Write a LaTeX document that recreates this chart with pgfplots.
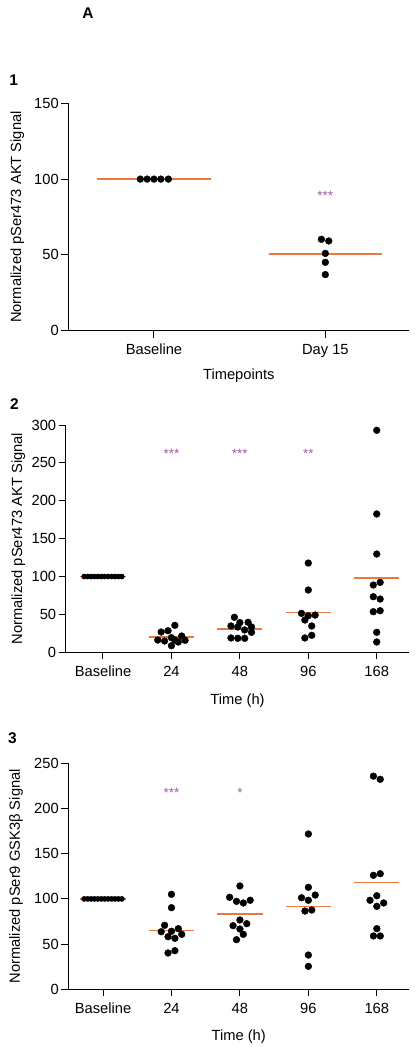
\documentclass[border=0pt]{standalone}
\usepackage{pgfplots}
\pgfplotsset{compat=1.18}
\usepackage{fontspec}
\setmainfont{Liberation Sans}
\definecolor{medorange}{RGB}{232,121,65}
\definecolor{starpurple}{RGB}{165,90,170}
\tikzset{stars/.style={font=\fontsize{13.5}{14}\selectfont, text=starpurple}}
\newcommand{\lblfont}{\fontsize{14.7}{16}\selectfont}
\pgfplotsset{
  panel/.style={
    scale only axis, anchor=south west,
    axis x line*=bottom, axis y line*=left,
    axis line style={-, line width=1pt, black},
    tick align=outside, major tick length=7pt,
    tick style={black, line width=1pt},
    ymin=0, clip=false,
    /pgf/number format/assume math mode=true,
    tick label style={font=\lblfont, text=black},
    xticklabel style={yshift=-3pt},
    yticklabel style={xshift=1pt},
  },
  dots/.style={only marks, mark=*, mark size=3.4pt, black, mark options={fill=black, draw=black}},
  bdots/.style={only marks, mark=*, mark size=2.6pt, black, mark options={fill=black, draw=black}},
  med/.style={no marks, medorange, line width=1.6pt},
}
\begin{document}
\begin{tikzpicture}
\useasboundingbox (0,0) rectangle (420pt,-1047pt);
\node[font=\fontsize{15.5}{16}\selectfont\bfseries] at (88pt,-13pt) {A};
\node[font=\fontsize{15.5}{16}\selectfont\bfseries] at (13.7pt,-80pt) {1};
\node[font=\fontsize{15.5}{16}\selectfont\bfseries] at (14.5pt,-404pt) {2};
\node[font=\fontsize{15.5}{16}\selectfont\bfseries] at (12.5pt,-738pt) {3};

% Panel 1
\begin{axis}[panel, at={(68.3pt,-330.7pt)}, width=341pt, height=227.4pt,
  xmin=-0.5, xmax=1.49, ymax=150, ytick={0,50,100,150},
  xtick={0,1}, xticklabels={Baseline, Day 15},
  xlabel={Timepoints}, ylabel={Normalized pSer473 AKT Signal},
  every axis x label/.style={at={(axis description cs:0.5,-0.196)}, anchor=center, font=\lblfont},
  every axis y label/.style={at={(axis description cs:-0.1496,0.5)}, rotate=90, anchor=center, font=\lblfont}]
\addplot[med] coordinates {(-0.33,100) (0.33,100)};
\addplot[med] coordinates {(0.67,50.6) (1.33,50.6)};
\addplot[dots] coordinates {(-0.08,100) (-0.04,100) (0,100) (0.04,100) (0.084,100)};
\addplot[dots] coordinates {(0.977,60.3) (1.02,59.2) (1,51) (1,45.1) (1,37)};
\node[stars] at (axis cs:1,89) {***};
\end{axis}

% Panel 2
\begin{axis}[panel, at={(65.7pt,-652.3pt)}, width=343.6pt, height=227.3pt,
  xmin=-0.545, xmax=4.476, ymax=300, ytick={0,50,...,300},
  xtick={0,1,2,3,4}, xticklabels={Baseline,24,48,96,168},
  xlabel={Time (h)}, ylabel={Normalized pSer473 AKT Signal},
  every axis x label/.style={at={(axis description cs:0.5,-0.212)}, anchor=center, font=\lblfont},
  every axis y label/.style={at={(axis description cs:-0.138,0.5)}, rotate=90, anchor=center, font=\lblfont}]
\addplot[bdots] coordinates {(-0.275,100) (-0.225,100) (-0.175,100) (-0.125,100) (-0.075,100) (-0.025,100) (0.025,100) (0.075,100) (0.125,100) (0.175,100) (0.225,100) (0.275,100)};
\addplot[med] coordinates {(-0.33,100) (0.33,100)};
\addplot[med] coordinates {(0.67,20.6) (1.33,20.6)};
\addplot[med] coordinates {(1.67,30.8) (2.33,30.8)};
\addplot[med] coordinates {(2.67,52.3) (3.33,52.3)};
\addplot[med] coordinates {(3.67,98) (4.33,98)};
\addplot[dots] coordinates {(1.05,35.6) (0.85,26.8) (0.95,28.5) (0.8,16.2) (0.9,14.9) (1,19.3) (1.15,21.5) (1.05,16.2) (1.1,13.6) (1.2,15.8) (1,8.7)};
\addplot[dots] coordinates {(1.92,46.2) (1.87,34.8) (2,39.2) (2.12,39.6) (1.97,33.4) (2.17,33.4) (2.07,29.5) (2.17,26.4) (1.87,18.9) (1.97,18.5) (2.07,18.5)};
\addplot[dots] coordinates {(3,117.8) (3,82.2) (2.9,51.4) (3,48.3) (3.1,49.2) (2.95,42.6) (3.05,34.7) (3.05,22.4) (2.95,18.9)};
\addplot[dots] coordinates {(4,293) (4,182.6) (4,129.7) (3.95,88.8) (4.05,92.3) (3.95,73.4) (4.05,70.3) (3.95,53.6) (4.05,54.9) (4,26.4) (4,13.6)};
\node[stars] at (axis cs:1,262) {***};
\node[stars] at (axis cs:2,262) {***};
\node[stars] at (axis cs:3,262) {**};
\end{axis}

% Panel 3
\begin{axis}[panel, at={(68.3pt,-989.3pt)}, width=340.7pt, height=226pt,
  xmin=-0.507, xmax=4.47, ymax=250, ytick={0,50,...,250},
  xtick={0,1,2,3,4}, xticklabels={Baseline,24,48,96,168},
  xlabel={Time (h)}, ylabel={Normalized pSer9 GSK3β Signal},
  every axis x label/.style={at={(axis description cs:0.5,-0.209)}, anchor=center, font=\lblfont},
  every axis y label/.style={at={(axis description cs:-0.1535,0.5)}, rotate=90, anchor=center, font=\lblfont}]
\addplot[bdots] coordinates {(-0.275,100) (-0.225,100) (-0.175,100) (-0.125,100) (-0.075,100) (-0.025,100) (0.025,100) (0.075,100) (0.125,100) (0.175,100) (0.225,100) (0.275,100)};
\addplot[med] coordinates {(-0.33,100) (0.33,100)};
\addplot[med] coordinates {(0.67,65.2) (1.33,65.2)};
\addplot[med] coordinates {(1.67,83) (2.33,83)};
\addplot[med] coordinates {(2.67,91.8) (3.33,91.8)};
\addplot[med] coordinates {(3.67,118) (4.33,118)};
\addplot[dots] coordinates {(1,105.1) (1,90.3) (0.9,70.8) (1.1,67.1) (0.85,63.7) (1,64.2) (0.95,58.2) (1.05,56.4) (1.15,60.8) (0.95,40.2) (1.05,42.7)};
\addplot[dots] coordinates {(2,114.3) (1.85,101.8) (1.95,97.3) (2.05,95.5) (2.15,98.5) (2,76.7) (1.9,70.4) (2.1,72.6) (2,66.7) (2.05,60.8) (1.95,54.9)};
\addplot[dots] coordinates {(3,171.8) (3,112.8) (2.9,101.3) (3.1,104.3) (3,98.5) (2.95,86.6) (3.05,87.7) (3,37.9) (3,25.4)};
\addplot[dots] coordinates {(3.95,235.8) (4.05,232.3) (3.95,126.1) (4.05,127.9) (4,103.5) (3.9,98.5) (4.1,95.5) (4,91.8) (4,67.1) (3.95,59) (4.05,59)};
\node[stars] at (axis cs:1,217) {***};
\node[stars] at (axis cs:2,217) {*};
\end{axis}
\end{tikzpicture}
\end{document}
